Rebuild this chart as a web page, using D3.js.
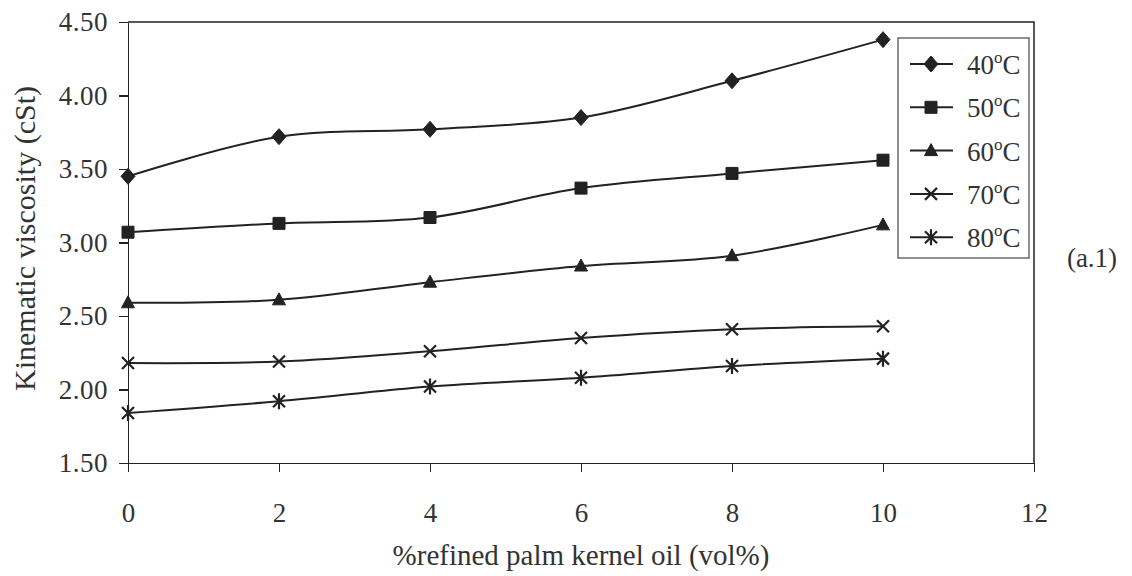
<!DOCTYPE html>
<html>
<head>
<meta charset="UTF-8">
<title>Kinematic viscosity</title>
<style>
  body { margin: 0; background: #fff; }
  svg text { font-family: 'Liberation Serif', 'DejaVu Serif', serif; fill: #333; }
  .axis path, .axis line { stroke: #222; stroke-width: 1.5; shape-rendering: crispEdges; }
</style>
</head>
<body>
<svg id="chart"></svg>
<script src="https://d3js.org/d3.v7.min.js"></script>
<script>
const width = 1132, height = 576;

// data
const xValues = [0, 2, 4, 6, 8, 10];
const temps = ["40", "50", "60", "70", "80"];
const visc40 = [3.45, 3.72, 3.77, 3.85, 4.10, 4.38];
const visc50 = [3.07, 3.13, 3.17, 3.37, 3.47, 3.56];
const visc60 = [2.59, 2.61, 2.73, 2.84, 2.91, 3.12];
const visc70 = [2.18, 2.19, 2.26, 2.35, 2.41, 2.43];
const visc80 = [1.84, 1.92, 2.02, 2.08, 2.16, 2.21];
const xTicks = [0, 2, 4, 6, 8, 10, 12];
const yTicks = [1.5, 2.0, 2.5, 3.0, 3.5, 4.0, 4.5];

const series = [visc40, visc50, visc60, visc70, visc80];
const markers = ["diamond", "square", "triangle", "cross", "asterisk"];

const plotL = 128, plotR = 1034, plotT = 22, plotB = 463;

let svg = d3.select("#chart")
    .attr("width", width)
    .attr("height", height);

let x = d3.scaleLinear().domain([0, 12]).range([plotL, plotR]);
let y = d3.scaleLinear().domain([1.5, 4.5]).range([plotB, plotT]);

// frame (top and right)
svg.append("path")
    .attr("d", `M${plotL},${plotT}H${plotR}V${plotB}`)
    .attr("fill", "none")
    .attr("stroke", "#222")
    .attr("stroke-width", 1.5);

svg.append("g")
    .attr("class", "axis")
    .attr("transform", `translate(0,${plotB})`)
    .call(d3.axisBottom(x).tickValues(xTicks).tickSize(9).tickSizeOuter(0).tickPadding(31).tickFormat(d3.format("d")))
    .call(g => g.selectAll("text").style("font-size", "27px").attr("fill", "#333"));

svg.append("g")
    .attr("class", "axis")
    .attr("transform", `translate(${plotL},0)`)
    .call(d3.axisLeft(y).tickValues(yTicks).tickSize(9).tickSizeOuter(0).tickPadding(11).tickFormat(d3.format(".2f")))
    .call(g => g.selectAll("text").style("font-size", "27px").style("letter-spacing", "0.5px").attr("fill", "#333"));

// marker shapes
function markerPath(type) {
    if (type == "diamond") return "M0,-8L7,0L0,8L-7,0Z";
    if (type == "square") return "M-6,-6H6V6H-6Z";
    if (type == "triangle") return "M0,-7L6.5,5H-6.5Z";
    if (type == "cross") return "M-6,-6L6,6M6,-6L-6,6";
    return "M-6,-6L6,6M6,-6L-6,6M0,-8V8";
}

function drawMarker(g, type) {
    let filled = type == "diamond" || type == "square" || type == "triangle";
    g.append("path")
        .attr("d", markerPath(type))
        .attr("fill", filled ? "#222" : "none")
        .attr("stroke", "#222")
        .attr("stroke-width", filled ? 1 : 2.2);
}

let line = d3.line()
    .x((d, i) => x(xValues[i]))
    .y(d => y(d))
    .curve(d3.curveCatmullRom.alpha(0.5));

series.forEach(function (vals, s) {
    svg.append("path")
        .datum(vals)
        .attr("d", line)
        .attr("fill", "none")
        .attr("stroke", "#222")
        .attr("stroke-width", 2);

    vals.forEach(function (v, i) {
        let g = svg.append("g").attr("transform", `translate(${x(xValues[i])},${y(v)})`);
        drawMarker(g, markers[s]);
    });
});

// legend
let legend = svg.append("g");
legend.append("rect")
    .attr("x", 898).attr("y", 38)
    .attr("width", 131).attr("height", 220)
    .attr("fill", "#fff")
    .attr("stroke", "#444")
    .attr("stroke-width", 1.2);

temps.forEach(function (t, i) {
    let cy = 64 + i * 43.3;
    let row = legend.append("g").attr("transform", `translate(0,${cy})`);
    row.append("line")
        .attr("x1", 910).attr("x2", 953)
        .attr("stroke", "#222").attr("stroke-width", 2);
    drawMarker(row.append("g").attr("transform", "translate(931,0)"), markers[i]);
    let txt = row.append("text")
        .attr("x", 967).attr("y", 10)
        .style("font-size", "27px");
    txt.append("tspan").text(t);
    txt.append("tspan").attr("dy", -11).style("font-size", "17px").text("o");
    txt.append("tspan").attr("dy", 11).text("C");
});

// axis titles
svg.append("text")
    .attr("x", (plotL + plotR) / 2)
    .attr("y", 565)
    .attr("text-anchor", "middle")
    .style("font-size", "29px")
    .text("%refined palm kernel oil (vol%)");

svg.append("text")
    .attr("transform", `translate(35,${(plotT + plotB) / 2 - 4}) rotate(-90)`)
    .attr("text-anchor", "middle")
    .style("font-size", "30px")
    .text("Kinematic viscosity (cSt)");

svg.append("text")
    .attr("x", 1092)
    .attr("y", 267)
    .attr("text-anchor", "middle")
    .style("font-size", "27px")
    .text("(a.1)");
</script>
</body>
</html>
